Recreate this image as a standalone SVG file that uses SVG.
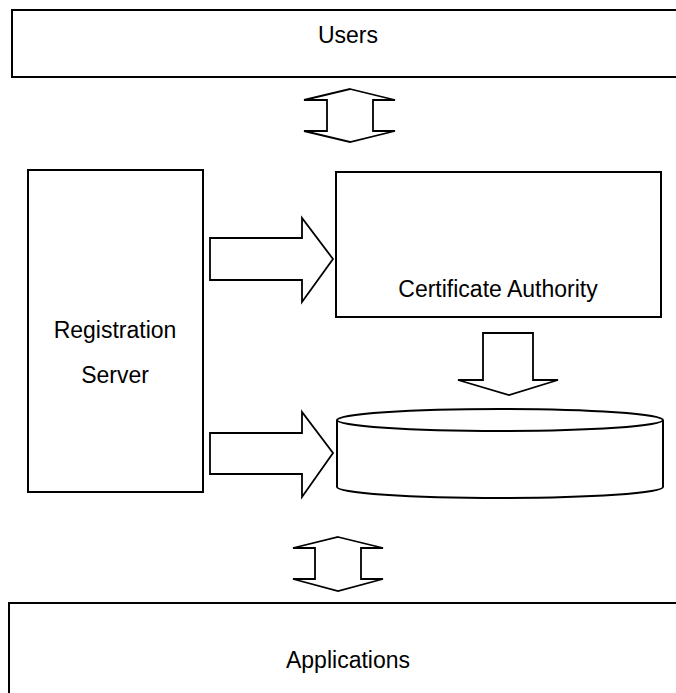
<svg xmlns="http://www.w3.org/2000/svg" width="676" height="693" viewBox="0 0 676 693">
<style>
.box{fill:#fff;stroke:#000;stroke-width:2}
.arr{fill:#fff;stroke:#000;stroke-width:1.8;stroke-linejoin:miter}
.lbl{font-family:"Liberation Sans",Arial,sans-serif;font-size:23px;fill:#000;text-anchor:middle}
</style>
<rect width="676" height="693" fill="#fff"/>
<g id="users">
<rect class="box" x="12" y="10" width="680" height="67"/>
<text class="lbl" x="348" y="43">Users</text>
</g>
<g id="registration-server">
<rect class="box" x="28" y="170" width="175" height="322"/>
<text class="lbl" x="115" y="338">Registration</text>
<text class="lbl" x="115" y="383">Server</text>
</g>
<g id="certificate-authority">
<rect class="box" x="336" y="172" width="325" height="145"/>
<text class="lbl" x="498" y="297">Certificate Authority</text>
</g>
<g id="repository">
<path class="box" d="M337,420 L337,487 A163,11 0 0 0 663,487 L663,420"/>
<ellipse class="box" cx="500" cy="420" rx="163" ry="11"/>
</g>
<g id="applications">
<rect class="box" x="9" y="603" width="680" height="100"/>
<text class="lbl" x="348" y="668">Applications</text>
</g>
<g id="connectors">
<polygon class="arr" points="350,89 395,100 373,100 373,131 395,131 350,142 304,131 327,131 327,100 304,100"/>
<polygon class="arr" points="210,238 302,238 302,218 333,259 302,302 302,280 210,280"/>
<polygon class="arr" points="210,433 302,433 302,412 333,453 302,497 302,474 210,474"/>
<polygon class="arr" points="483,333 533,333 533,380 558,380 509,395 458,380 483,380"/>
<polygon class="arr" points="338,537 383,548 361,548 361,579 383,579 338,591 293,579 315,579 315,548 293,548"/>
</g>
</svg>
